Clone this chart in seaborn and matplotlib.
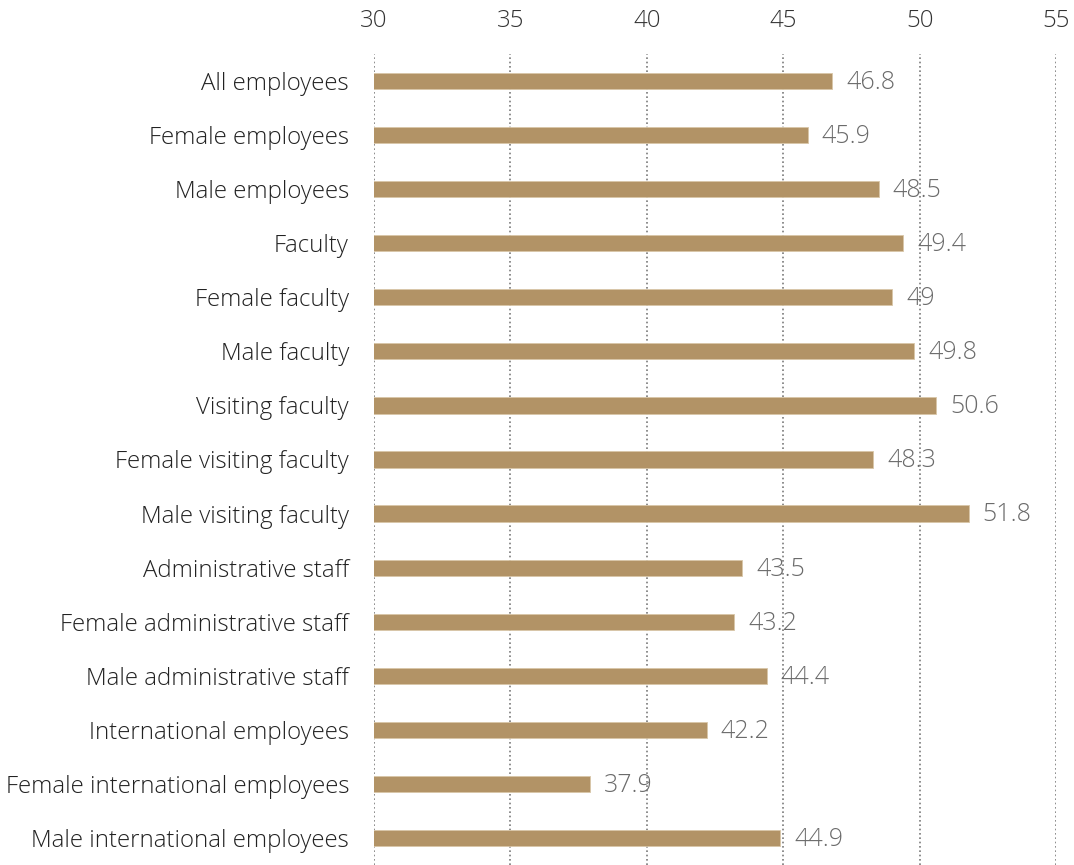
import matplotlib
matplotlib.use("Agg")
import matplotlib.pyplot as plt
import seaborn as sns
import pandas as pd

categories = [
    "All employees", "Female employees", "Male employees", "Faculty",
    "Female faculty", "Male faculty", "Visiting faculty",
    "Female visiting faculty", "Male visiting faculty",
    "Administrative staff", "Female administrative staff",
    "Male administrative staff", "International employees",
    "Female international employees", "Male international employees",
]
values = [46.8, 45.9, 48.5, 49.4, 49.0, 49.8, 50.6, 48.3, 51.8,
          43.5, 43.2, 44.4, 42.2, 37.9, 44.9]
value_labels = ["46.8", "45.9", "48.5", "49.4", "49", "49.8", "50.6", "48.3",
                "51.8", "43.5", "43.2", "44.4", "42.2", "37.9", "44.9"]
x_ticks = [30, 35, 40, 45, 50, 55]

sns.set_style("white")
plt.rcParams["font.family"] = ["Open Sans", "DejaVu Sans"]

df = pd.DataFrame({"group": categories, "age": values})

fig = plt.figure(figsize=(10.74, 8.65), dpi=100)
ax = fig.add_axes([374 / 1074, 0.0, 682 / 1074, 1 - 54 / 865])

sns.barplot(data=df, y="group", x="age", orient="h", color="#b29366",
            saturation=1, width=0.3, ax=ax, edgecolor="#d8c6a8", linewidth=0.6)

ax.set_xlim(30, 55)
ax.set_ylim(len(categories) - 0.5, -0.5)
ax.set_xticks(x_ticks)
ax.xaxis.tick_top()
ax.tick_params(axis="x", length=0, pad=15, labelsize=17.3, labelcolor="#333333")
ax.tick_params(axis="y", length=0, pad=18, labelsize=17.3, labelcolor="#222222")
for lbl in ax.get_xticklabels() + ax.get_yticklabels():
    lbl.set_fontweight("light")
ax.set_xlabel("")
ax.set_ylabel("")
for s in ax.spines.values():
    s.set_visible(False)

for xv in x_ticks:
    ax.axvline(xv, color="#7a7a7a", linestyle=(0, (1, 1.6)), linewidth=1.2, zorder=0)

for i, (v, t) in enumerate(zip(values, value_labels)):
    ax.annotate(t, xy=(v, i), xytext=(10, -1), textcoords="offset points",
                ha="left", va="center", fontsize=18, color="#6b6b6b",
                fontweight="light")

fig.savefig("out.png", dpi=100)
